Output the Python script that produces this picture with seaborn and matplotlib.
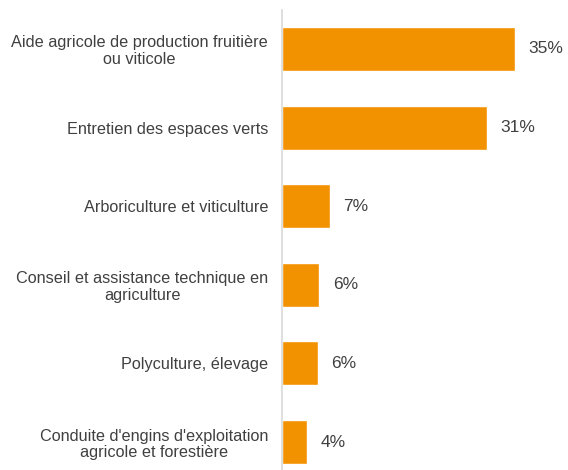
import matplotlib
matplotlib.use("Agg")
import matplotlib.pyplot as plt
import seaborn as sns
import pandas as pd

categories = [
    "Aide agricole de production fruitière\nou viticole",
    "Entretien des espaces verts",
    "Arboriculture et viticulture",
    "Conseil et assistance technique en\nagriculture",
    "Polyculture, élevage",
    "Conduite d'engins d'exploitation\nagricole et forestière",
]
values = [35.0, 30.8, 7.2, 5.6, 5.4, 3.8]
value_labels = ["35%", "31%", "7%", "6%", "6%", "4%"]

df = pd.DataFrame({"metier": categories, "part": values})

sns.set_style("white")
plt.rcParams["font.family"] = ["Liberation Sans", "DejaVu Sans"]

fig = plt.figure(figsize=(5.68, 4.70), dpi=100)
ax = fig.add_axes([282 / 568, 0.0, 1 - 282 / 568, 460 / 470])

sns.barplot(data=df, x="part", y="metier", color="#F39200", width=0.56,
            saturation=1, ax=ax)

for i, (v, lab) in enumerate(zip(values, value_labels)):
    ax.text(v + 2.0, i, lab, va="center", ha="left", fontsize=12.5, color="#404040")

ax.set_xlim(0, 42.9)
ax.set_ylim(5.356, -0.496)
ax.set_xlabel("")
ax.set_ylabel("")
ax.set_xticks([])
ax.tick_params(axis="y", length=0, pad=10, labelsize=11.7, labelcolor="#404040")
for t in ax.get_yticklabels():
    t.set_multialignment("center")
    t.set_linespacing(1.1)

for s in ["top", "right", "bottom"]:
    ax.spines[s].set_visible(False)
ax.spines["left"].set_color("#d9d9d9")
ax.spines["left"].set_linewidth(1.2)

fig.savefig("out.png", dpi=100)
